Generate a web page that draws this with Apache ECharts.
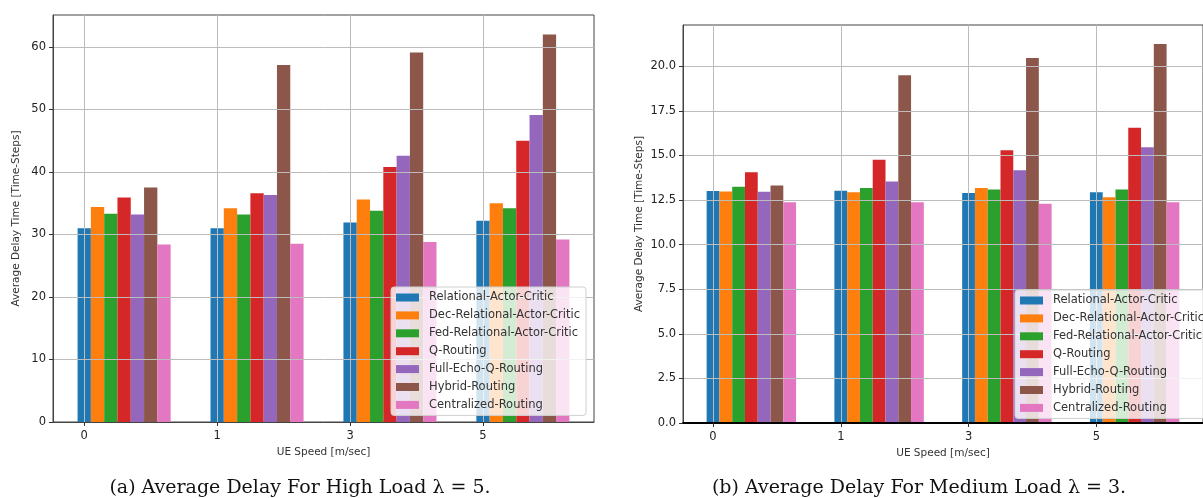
<!DOCTYPE html>
<html>
<head>
<meta charset="utf-8">
<script src="https://cdn.jsdelivr.net/npm/echarts@6/dist/echarts.min.js"></script>
<style>
  html, body { margin: 0; padding: 0; background: #fff; }
  #chart { width: 1203px; height: 498px; }
</style>
</head>
<body>
<div id="chart"></div>
<script>
// UE speed groups (tick labels on the x axis)
const speedLabels = ['0', '1', '3', '5'];

// Routing methods, in bar order within each group
const methods = [
  'Relational-Actor-Critic',
  'Dec-Relational-Actor-Critic',
  'Fed-Relational-Actor-Critic',
  'Q-Routing',
  'Full-Echo-Q-Routing',
  'Hybrid-Routing',
  'Centralized-Routing'
];
const methodColors = ['#1f77b4', '#ff7f0e', '#2ca02c', '#d62728', '#9467bd', '#8c564b', '#e377c2'];

// Average delay, high load (lambda = 5), one array per method, values per speed
const highRAC     = [31.0, 31.0, 31.9, 32.2];
const highDecRAC  = [34.4, 34.2, 35.6, 35.0];
const highFedRAC  = [33.3, 33.2, 33.8, 34.2];
const highQ       = [35.9, 36.6, 40.8, 45.0];
const highFullQ   = [33.2, 36.3, 42.6, 49.1];
const highHybrid  = [37.5, 57.1, 59.1, 62.0];
const highCentral = [28.4, 28.5, 28.8, 29.2];

// Average delay, medium load (lambda = 3)
const medRAC     = [13.00, 13.02, 12.89, 12.93];
const medDecRAC  = [12.98, 12.94, 13.17, 12.65];
const medFedRAC  = [13.25, 13.17, 13.09, 13.09];
const medQ       = [14.06, 14.76, 15.29, 16.55];
const medFullQ   = [12.97, 13.54, 14.17, 15.46];
const medHybrid  = [13.32, 19.49, 20.46, 21.25];
const medCentral = [12.37, 12.37, 12.29, 12.37];

// Y tick values
const highYTicks = [0, 10, 20, 30, 40, 50, 60];
const medYTicks  = [0, 2.5, 5, 7.5, 10, 12.5, 15, 17.5, 20];

const highSeries = [highRAC, highDecRAC, highFedRAC, highQ, highFullQ, highHybrid, highCentral];
const medSeries  = [medRAC, medDecRAC, medFedRAC, medQ, medFullQ, medHybrid, medCentral];

// Bar layout in axis units: bar i of a group sits at group + i * BAR_W
const BAR_W = 0.1;
const spanLo = -BAR_W / 2;
const spanHi = (speedLabels.length - 1) + (methods.length - 1) * BAR_W + BAR_W / 2;
const pad = (spanHi - spanLo) * 0.05;
const xMin = spanLo - pad, xMax = spanHi + pad;

const FONT = 'DejaVu Sans';
const tickIdx = speedLabels.map((_, i) => i);

function barRenderer(k) {
  return function (params, api) {
    const x = api.value(0) + k * BAR_W;
    const v = api.value(1);
    const a = api.coord([x - BAR_W / 2, v]);
    const b = api.coord([x + BAR_W / 2, 0]);
    return {
      type: 'rect',
      shape: { x: a[0], y: a[1], width: b[0] - a[0], height: b[1] - a[1] },
      style: { fill: api.visual('color') }
    };
  };
}

function xAxisFor(gridIndex, lineColor, lineWidth) {
  return {
    type: 'value', gridIndex, min: xMin, max: xMax, z: 3,
    name: 'UE Speed [m/sec]', nameLocation: 'middle', nameGap: 24,
    nameTextStyle: { fontFamily: FONT, fontSize: 10.5, color: '#333' },
    axisLine: { show: true, onZero: false, lineStyle: { color: lineColor, width: lineWidth } },
    axisTick: { show: true, length: 4, customValues: tickIdx, lineStyle: { color: '#333' } },
    axisLabel: { customValues: tickIdx, fontFamily: FONT, fontSize: 11.5, color: '#222', margin: 8,
                 formatter: v => speedLabels[Math.round(v)] },
    splitLine: { show: true, lineStyle: { color: '#bcbcbc', width: 1 } }
  };
}

function yAxisFor(gridIndex, maxV, ticks, gap, decimals) {
  return {
    type: 'value', gridIndex, min: 0, max: maxV, z: 3,
    name: 'Average Delay Time [Time-Steps]', nameLocation: 'middle', nameGap: gap,
    nameTextStyle: { fontFamily: FONT, fontSize: 10.5, color: '#333' },
    axisLine: { show: true, onZero: false, lineStyle: { color: '#444' } },
    axisTick: { show: true, length: 4, customValues: ticks, lineStyle: { color: '#333' } },
    axisLabel: { customValues: ticks, fontFamily: FONT, fontSize: 11.5, color: '#222', margin: 7,
                 formatter: v => v.toFixed(decimals) },
    splitLine: { show: true, lineStyle: { color: '#bcbcbc', width: 1 } }
  };
}

function legendFor(left, top) {
  return {
    orient: 'vertical', left, top,
    data: methods, icon: 'rect', itemWidth: 23, itemHeight: 8, itemGap: 4.9,
    padding: [4, 6, 4, 5],
    backgroundColor: 'rgba(255,255,255,0.8)', borderColor: '#d0d0d0', borderWidth: 1, borderRadius: 3,
    selectedMode: false,
    textStyle: { fontFamily: FONT, fontSize: 11.5, color: '#333', lineHeight: 13, padding: [0, 0, 0, 5] }
  };
}

const series = [];
[highSeries, medSeries].forEach((group, g) => {
  group.forEach((vals, k) => {
    series.push({
      type: 'custom', name: methods[k], xAxisIndex: g, yAxisIndex: g, z: 1,
      itemStyle: { color: methodColors[k] },
      renderItem: barRenderer(k),
      data: vals.map((v, i) => [i, v])
    });
  });
});

const highMax = Math.max(...highSeries.flat()) * 1.05;
const medMax = Math.max(...medSeries.flat()) * 1.05;

const CAPTION_FONT = '19px "DejaVu Serif"';

const chart = echarts.init(document.getElementById('chart'), null, { renderer: 'canvas' });
chart.setOption({
  animation: false,
  backgroundColor: '#fff',
  grid: [
    { left: 53, top: 15, width: 541, height: 407, show: true, borderColor: '#444', borderWidth: 1, containLabel: false },
    { left: 683, top: 25, width: 531, height: 398, show: true, borderColor: '#444', borderWidth: 1, containLabel: false }
  ],
  xAxis: [xAxisFor(0, '#444', 1), xAxisFor(1, '#000', 2)],
  yAxis: [yAxisFor(0, highMax, highYTicks, 31, 0), yAxisFor(1, medMax, medYTicks, 38, 1)],
  legend: [legendFor(391, 287), legendFor(1015, 290)],
  graphic: [
    { type: 'text', x: 300, y: 488, style: { text: '(a) Average Delay For High Load λ = 5.',
      font: CAPTION_FONT, fill: '#111', textAlign: 'center', textVerticalAlign: 'middle' } },
    { type: 'text', x: 919, y: 488, style: { text: '(b) Average Delay For Medium Load λ = 3.',
      font: CAPTION_FONT, fill: '#111', textAlign: 'center', textVerticalAlign: 'middle' } }
  ],
  series
});
</script>
</body>
</html>
